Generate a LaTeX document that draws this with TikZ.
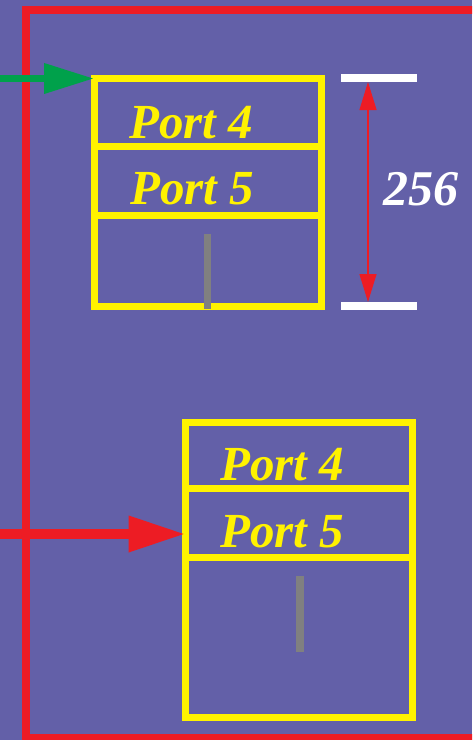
\documentclass[tikz,border=0pt]{standalone}
\usepackage{fontspec}
\setmainfont{Liberation Serif}
\usetikzlibrary{arrows.meta}
\definecolor{bgpurple}{RGB}{99,96,168}
\definecolor{frred}{RGB}{237,28,36}
\definecolor{boxyellow}{RGB}{255,242,0}
\definecolor{ingreen}{RGB}{0,161,75}
\definecolor{bargray}{RGB}{128,128,128}
\begin{document}
\begin{tikzpicture}[x=1pt,y=-1pt,
  portbox/.style={draw=boxyellow,line width=7pt,rectangle,inner sep=0pt,outer sep=0pt,anchor=north west},
  divider/.style={draw=boxyellow,line width=7pt},
  portlabel/.style={text=boxyellow,font=\fontsize{49}{49}\selectfont\bfseries\itshape,anchor=base west,inner sep=0pt},
  slot/.style={fill=bargray,draw=none},
  tick/.style={draw=white,line width=8pt},
  dimline/.style={draw=frred,line width=1.2pt,{Triangle[length=28pt,width=17pt]}-{Triangle[length=28pt,width=17pt]}},
]
\useasboundingbox (0,0) rectangle (472,740);
\clip (0,0) rectangle (472,740);
\fill[bgpurple] (0,0) rectangle (472,740);

% outer frame
\draw[frred,line width=8pt] (26,10) rectangle (500,738);

% upper buffer
\node[portbox,minimum width=227.5pt,minimum height=227.5pt] (b1) at (94,78.5) {};
\draw[divider] (b1.west |- 0,146.5) -- (b1.east |- 0,146.5);
\draw[divider] (b1.west |- 0,215) -- (b1.east |- 0,215);
\node[portlabel] (b1p4) at (129,138) {Port 4};
\node[portlabel] (b1p5) at (130,204) {Port 5};
\fill[slot] (204,234) rectangle (211,309);

% lower buffer
\node[portbox,minimum width=227pt,minimum height=295pt] (b2) at (185.5,422) {};
\draw[divider] (b2.west |- 0,488.5) -- (b2.east |- 0,488.5);
\draw[divider] (b2.west |- 0,557) -- (b2.east |- 0,557);
\node[portlabel] (b2p4) at (220,480) {Port 4};
\node[portlabel] (b2p5) at (220,547) {Port 5};
\fill[slot] (295.5,576) rectangle (303.5,652);

% incoming pointers
\coordinate (gin) at (0,78.5);
\coordinate (rin) at (0,534);
\draw[ingreen,line width=7pt,-{Triangle[length=50pt,width=29pt]}] (gin) -- (b1.north west);
\draw[frred,line width=10pt,-{Triangle[length=57pt,width=34pt]}] (rin) -- (rin -| b2.west);

% size marker
\coordinate (t1a) at (341,78); \coordinate (t1b) at (417,78);
\coordinate (t2a) at (341,306); \coordinate (t2b) at (417,306);
\draw[tick] (t1a) -- (t1b);
\draw[tick] (t2a) -- (t2b);
\draw[dimline] (368,82) -- (368,302);
\node[text=white,font=\fontsize{50}{50}\selectfont\bfseries\itshape,anchor=base,inner sep=0pt] (sz) at (421,205) {256};
\end{tikzpicture}
\end{document}
